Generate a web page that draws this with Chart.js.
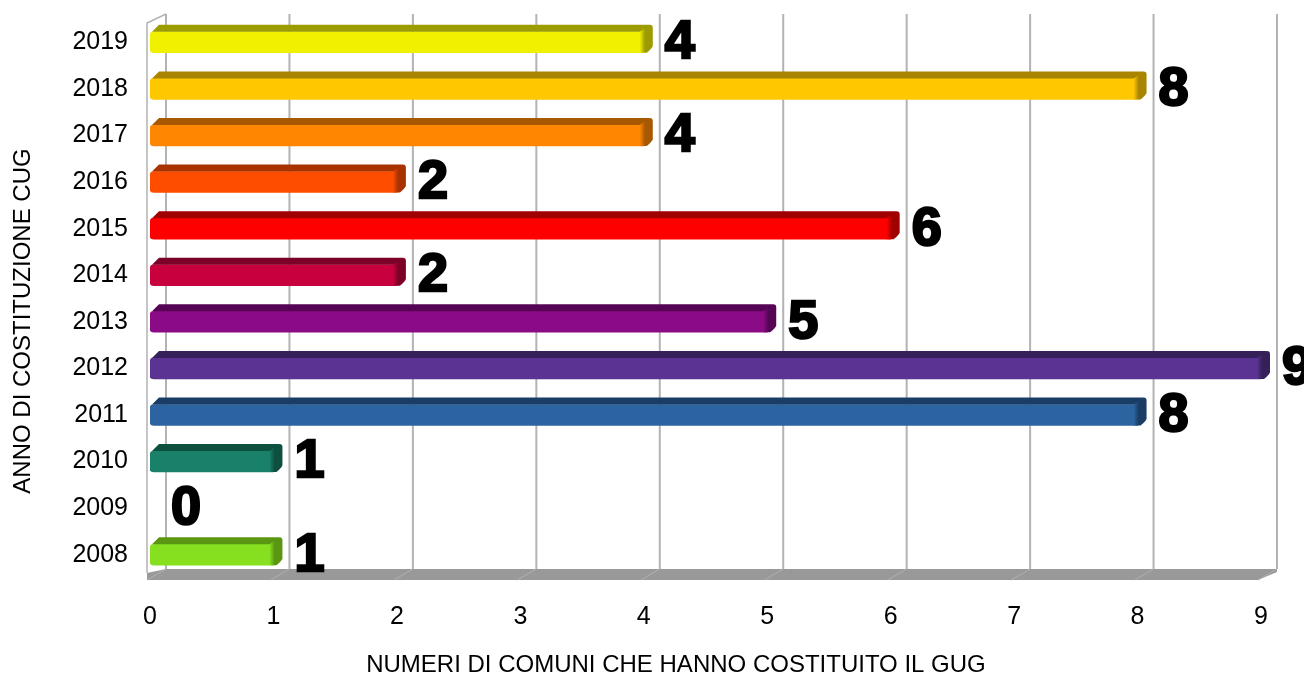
<!DOCTYPE html>
<html>
<head>
<meta charset="utf-8">
<script src="https://cdn.jsdelivr.net/npm/chart.js@4/dist/chart.umd.min.js"></script>
<style>
	html, body { margin: 0; padding: 0; background: #fff; }
	#wrap { width: 1304px; height: 676px; }
</style>
</head>
<body>
<div id="wrap"><canvas id="graficoCug"></canvas></div>
<script>

// dati
var anni = ['2008', '2009', '2010', '2011', '2012', '2013', '2014', '2015', '2016', '2017', '2018', '2019'];
var comuni = [1, 0, 1, 8, 9, 5, 2, 6, 2, 4, 8, 4];
var coloriBarre = ['#86e01f', '#ffffff', '#198069', '#2b64a1', '#5b3392', '#8b0a85', '#c8003e', '#ff0000', '#ff4d00', '#ff8600', '#ffc700', '#f0f000'];
var coloriLati = ['#5a9612', '#ffffff', '#0e5040', '#1a3d66', '#35205a', '#560555', '#7d0026', '#a00000', '#a83200', '#a85800', '#a88400', '#9c9c00'];
var tickX = [0, 1, 2, 3, 4, 5, 6, 7, 8, 9];
var titoloX = 'NUMERI DI COMUNI CHE HANNO COSTITUITO IL GUG';
var titoloY = 'ANNO DI COSTITUZIONE CUG';

var DX = 19;   // profondita' pareti
var DY = 8;
var BX = 9;    // profondita' barre
var BY = 7;

var pareti3d = {
	id: 'pareti3d',
	beforeDatasetsDraw: function(chart){
		let ctx = chart.ctx;
		let area = chart.chartArea;
		let sx = chart.scales.x;
		let fondo = area.bottom;
		ctx.save();
		// pavimento
		let x0 = sx.getPixelForValue(0) - 3;
		let x9 = sx.getPixelForValue(9) - 3;
		ctx.fillStyle = '#999999';
		ctx.beginPath();
		ctx.moveTo(x0, fondo + 2);
		ctx.lineTo(x9, fondo + 2);
		ctx.lineTo(x9 + DX, fondo - DY + 2);
		ctx.lineTo(x9 + DX, fondo - DY - 1);
		ctx.lineTo(x0 + DX, fondo - DY - 1);
		ctx.lineTo(x0, fondo - 5);
		ctx.closePath();
		ctx.fill();
		ctx.strokeStyle = '#b0b0b0';
		ctx.lineWidth = 1;
		for(let t in tickX){
			let px = sx.getPixelForValue(tickX[t]) - 3;
			ctx.beginPath();
			ctx.moveTo(px, fondo + 2);
			ctx.lineTo(px + DX, fondo - DY - 1);
			ctx.stroke();
		}
		// griglia sulla parete di fondo
		ctx.strokeStyle = '#b3b3b3';
		ctx.lineWidth = 2;
		for(let t in tickX){
			let px = sx.getPixelForValue(tickX[t]) - 3 + DX;
			ctx.beginPath();
			ctx.moveTo(px, area.top - 5);
			ctx.lineTo(px, fondo - DY - 1);
			ctx.stroke();
		}
		// parete sinistra
		ctx.lineWidth = 1.5;
		ctx.beginPath();
		ctx.moveTo(x0, fondo - 5);
		ctx.lineTo(x0, area.top + 4);
		ctx.lineTo(x0 + DX, area.top - 5);
		ctx.stroke();
		ctx.restore();
	},
	afterDatasetsDraw: function(chart){
		let ctx = chart.ctx;
		let meta = chart.getDatasetMeta(0);
		let sx = chart.scales.x;
		ctx.save();
		meta.data.forEach(function(bar, i){
			let v = comuni[i];
			let top = bar.y - bar.height / 2;
			let bottom = bar.y + bar.height / 2;
			if(v > 0){
				// faccia superiore
				ctx.fillStyle = coloriLati[i];
				ctx.beginPath();
				ctx.moveTo(bar.base + 2, top);
				ctx.lineTo(bar.base + BX, top - BY);
				ctx.lineTo(bar.x + BX - 3, top - BY);
				ctx.lineTo(bar.x, top);
				ctx.closePath();
				ctx.fill();
				// lato destro
				let grad = ctx.createLinearGradient(bar.x - 4, 0, bar.x + BX, 0);
				grad.addColorStop(0, coloriBarre[i]);
				grad.addColorStop(0.4, coloriLati[i]);
				grad.addColorStop(1, coloriLati[i]);
				ctx.fillStyle = grad;
				ctx.beginPath();
				ctx.moveTo(bar.x - 4, top);
				ctx.lineTo(bar.x + BX - 3, top - BY);
				ctx.quadraticCurveTo(bar.x + BX, top - BY, bar.x + BX, top - BY + 3);
				ctx.lineTo(bar.x + BX, bottom - BY);
				ctx.quadraticCurveTo(bar.x + BX, bottom - BY + 2, bar.x + 3, bottom);
				ctx.lineTo(bar.x - 4, bottom);
				ctx.closePath();
				ctx.fill();
			}
			// etichetta valore
			ctx.fillStyle = '#000000';
			ctx.font = 'bold 54px "Liberation Sans", Arial, sans-serif';
			ctx.textAlign = 'left';
			ctx.textBaseline = 'middle';
			ctx.lineWidth = 2.5;
			ctx.strokeStyle = '#000000';
			ctx.strokeText(String(v), sx.getPixelForValue(v) + 21, bar.y + 1);
			ctx.fillText(String(v), sx.getPixelForValue(v) + 21, bar.y + 1);
		});
		// titoli degli assi
		ctx.font = '24px "Liberation Sans", Arial, sans-serif';
		ctx.textAlign = 'center';
		ctx.textBaseline = 'middle';
		ctx.fillStyle = '#000000';
		ctx.fillText(titoloX, 676, 665);
		ctx.translate(23, 321);
		ctx.rotate(-Math.PI / 2);
		ctx.fillText(titoloY, 0, 0);
		ctx.restore();
	}
};

var datiGrafico = {
	labels: anni,
	datasets: [{
		label: 'Comuni',
		data: comuni,
		backgroundColor: coloriBarre,
		borderWidth: 0,
		borderRadius: {topLeft: 4, bottomLeft: 4, topRight: 0, bottomRight: 0},
		borderSkipped: false,
		barThickness: 21
	}]
};

var configGrafico = {
	type: 'bar',
	data: datiGrafico,
	options: {
		indexAxis: 'y',
		responsive: true,
		maintainAspectRatio: false,
		animation: false,
		layout: {
			padding: {top: 19, right: 43, left: 0, bottom: 0}
		},
		plugins: {
			legend: { display: false },
			tooltip: { enabled: false },
			title: { display: false }
		},
		scales: {
			x: {
				type: 'linear',
				min: 0,
				max: 9,
				grid: { display: false, drawTicks: false },
				border: { display: false },
				ticks: {
					stepSize: 1,
					padding: 24,
					color: '#000',
					font: { family: '"Liberation Sans", Arial, sans-serif', size: 25 }
				},
				afterFit: function(scale){
					scale.height = 98;
					scale.paddingLeft = 0;
					scale.paddingRight = 0;
				}
			},
			y: {
				reverse: true,
				grid: { display: false, drawTicks: false },
				border: { display: false },
				ticks: {
					padding: 22,
					color: '#000',
					font: { family: '"Liberation Sans", Arial, sans-serif', size: 25 }
				},
				afterFit: function(scale){
					scale.width = 150;
					scale.paddingTop = 0;
					scale.paddingBottom = 0;
				}
			}
		}
	},
	plugins: [pareti3d]
};

var graficoCug = new Chart(document.getElementById('graficoCug'), configGrafico);
</script>
</body>
</html>
